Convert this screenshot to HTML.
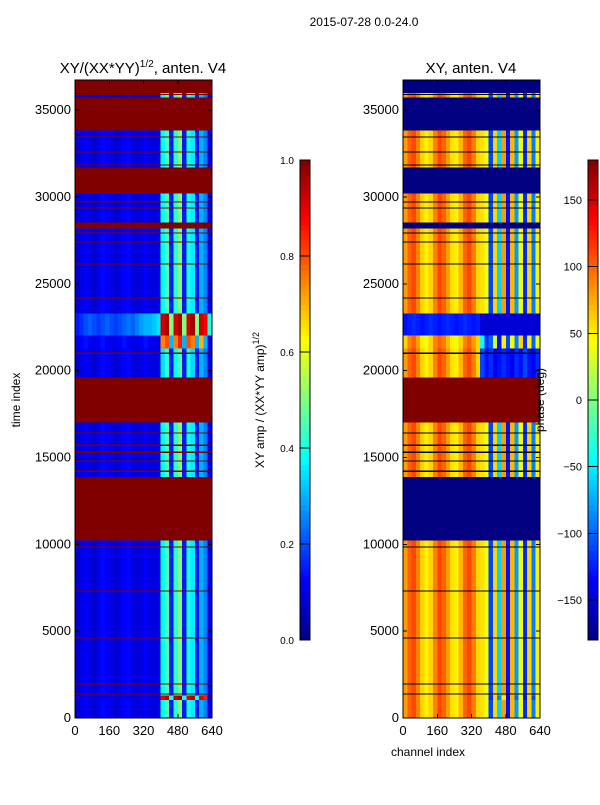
<!DOCTYPE html>
<html><head><meta charset="utf-8">
<style>
body{margin:0;background:#fff;}
svg text{font-family:"Liberation Sans",sans-serif;fill:#000;}
</style></head>
<body>
<svg id="fig" width="600" height="800" xmlns="http://www.w3.org/2000/svg" shape-rendering="crispEdges">
<rect width="600" height="800" fill="#fff"/>
<text x="364" y="26" font-size="12" text-anchor="middle">2015-07-28 0.0-24.0</text>
<text x="143" y="73" font-size="15" text-anchor="middle">XY/(XX*YY)<tspan font-size="10" dy="-6">1/2</tspan><tspan dy="6">, anten. V4</tspan></text>
<text x="471" y="73" font-size="15" text-anchor="middle">XY, anten. V4</text>
<text transform="translate(20,400) rotate(-90)" font-size="12" text-anchor="middle">time index</text>
<text x="428" y="756" font-size="12" text-anchor="middle">channel index</text>
<text transform="translate(264,400) rotate(-90)" font-size="12" text-anchor="middle">XY amp / (XX*YY amp)<tspan font-size="9" dy="-5">1/2</tspan></text>
<g id="heat"></g>
<g id="axes"></g>
<text transform="translate(544,400) rotate(-90)" font-size="12" text-anchor="middle">phase (deg)</text>
</svg>
<script>
// ---- data ----
const segStart = [0,1040,1320,10250,13880,17040,19630,21300,22050,23300,28200,28550,30220,31720,33850,35750,36000];
const segEnd   = [1040,1320,10250,13880,17040,19630,21300,22050,23300,28200,28550,30220,31720,33850,35750,36000,36700];
const segKind  = ["data","hot2","data","flag","data","flagR","data2","stripe","hot","data","flag","data","flag","data","flag","data","flag"];
const lineTimes = [1380,1960,4600,7310,9840,14200,14800,15300,15700,16400,21000,24180,26140,27400,27920,29360,29700,31840,32580,33450,35900];
const leftProfiles = {
 data:[0.08,0.1,0.12,0.1,0.08,0.1,0.13,0.12,0.1,0.08,0.1,0.12,0.13,0.1,0.08,0.1,0.12,0.1,0.09,0.1,0.38,0.45,0.15,0.42,0.5,0.15,0.4,0.36,0.15,0.3,0.25,0.1],
 data2:[0.08,0.1,0.12,0.1,0.08,0.1,0.13,0.12,0.1,0.08,0.1,0.12,0.13,0.1,0.08,0.1,0.12,0.1,0.09,0.1,0.35,0.42,0.15,0.38,0.45,0.15,0.4,0.34,0.15,0.3,0.25,0.1],
 stripe:[0.1,0.12,0.14,0.12,0.1,0.12,0.14,0.12,0.1,0.1,0.12,0.14,0.12,0.1,0.1,0.12,0.14,0.12,0.1,0.1,0.75,0.8,0.3,0.75,0.85,0.3,0.8,0.75,0.3,0.7,0.3,0.1],
 hot:[0.15,0.17,0.2,0.22,0.2,0.18,0.2,0.22,0.2,0.18,0.2,0.22,0.24,0.22,0.25,0.28,0.3,0.3,0.32,0.35,0.92,0.96,0.5,0.92,0.96,0.5,0.92,0.96,0.5,0.92,0.88,0.4],
 hot2:[0.1,0.1,0.12,0.1,0.1,0.1,0.12,0.1,0.1,0.1,0.1,0.12,0.1,0.1,0.1,0.1,0.12,0.1,0.1,0.1,0.9,0.95,0.4,0.95,0.98,0.4,0.9,0.95,0.4,0.9,0.85,0.1],
 flag:[1.0], flagR:[1.0]
};
const rightProfiles = {
 data:[80,100,110,90,60,50,60,90,110,100,80,55,50,70,100,110,90,60,55,40,-110,60,-60,80,-130,70,-80,40,-120,60,-90,50],
 data2:[80,100,110,90,60,50,60,90,110,100,80,55,50,70,100,110,90,60,-110,-130,-120,-140,-130,-120,-130,-140,-120,-130,-110,-130,-140,-120],
 stripe:[60,90,100,80,50,40,60,90,100,90,70,50,40,60,90,100,80,60,-40,-120,-100,30,-130,50,-110,40,-90,60,-120,50,-100,40],
 hot:[-130,-125,-120,-125,-130,-125,-120,-125,-130,-125,-120,-125,-130,-125,-120,-125,-130,-125,-150,-150,-150,-150,-150,-150,-150,-150,-150,-150,-150,-150,-150,-150],
 hot2:[80,100,110,90,60,50,60,90,110,100,80,55,50,70,100,110,90,60,55,40,-120,60,-90,50,-140,70,-100,40,-130,60,-110,50],
 flag:[-180], flagR:[180]
};
const ampTicks = [0.0,0.2,0.4,0.6,0.8,1.0];
const phaseTicks = [-150,-100,-50,0,50,100,150];
const timeTicks = [0,5000,10000,15000,20000,25000,30000,35000];
const chanTicks = [0,160,320,480,640];
// ---- scales ----
const T0=718, TMAX=36730, TOP=80;
const yT = t => T0 - (t/TMAX)*(T0-TOP);
const panels=[{x0:75,x1:212},{x0:403,x1:540}];
const xC = (p,c) => panels[p].x0 + (c/640)*(panels[p].x1-panels[p].x0);
function jet(v){v=Math.max(0,Math.min(1,v));
 const f=x=>Math.round(255*Math.max(0,Math.min(1,x)));
 return `rgb(${f(1.5-Math.abs(4*v-3))},${f(1.5-Math.abs(4*v-2))},${f(1.5-Math.abs(4*v-1))})`;}
const NS="http://www.w3.org/2000/svg";
const heat=document.getElementById('heat'), axes=document.getElementById('axes');
function mk(tag,attrs,parent){const e=document.createElementNS(NS,tag);for(const k in attrs)e.setAttribute(k,attrs[k]);parent.appendChild(e);return e;}
for(let p=0;p<2;p++){
 for(let i=0;i<segStart.length;i++){
  const prof = p===0?leftProfiles[segKind[i]]:rightProfiles[segKind[i]];
  const n=prof.length, w=640/n;
  for(let c=0;c<n;c++){
   const v = p===0?prof[c]:(prof[c]+180)/360;
   const y1=yT(segEnd[i]), y2=yT(segStart[i]);
   const r=mk('rect',{x:xC(p,c*w),y:y1,width:xC(p,(c+1)*w)-xC(p,c*w)+0.3,height:y2-y1+0.3,fill:jet(v)},heat);
   
   
  }
 }
 for(const t of lineTimes){
  const l=mk('rect',{x:panels[p].x0,y:yT(t)-0.6,width:panels[p].x1-panels[p].x0,height:1.2,fill:p===0?'#800000':'#000'},heat);
  
  
 }
 const fr=mk('rect',{x:panels[p].x0,y:TOP,width:panels[p].x1-panels[p].x0,height:T0-TOP,fill:'none',stroke:'#000','stroke-width':1},axes);
 
 
 for(const t of timeTicks){
  const y=yT(t);
  mk('line',{x1:panels[p].x0,x2:panels[p].x0+4,y1:y,y2:y,stroke:'#000'},axes);
  mk('line',{x1:panels[p].x1,x2:panels[p].x1-4,y1:y,y2:y,stroke:'#000'},axes);
  const tx=mk('text',{x:panels[p].x0-4,y:y+4,'font-size':13,'text-anchor':'end'},axes);
  tx.textContent=t;
  
  
 }
 for(const c of chanTicks){
  const x=xC(p,c);
  mk('line',{x1:x,x2:x,y1:T0,y2:T0-4,stroke:'#000'},axes);
  mk('line',{x1:x,x2:x,y1:TOP,y2:TOP+4,stroke:'#000'},axes);
  const tx=mk('text',{x:x,y:T0+17,'font-size':13,'text-anchor':'middle'},axes);
  tx.textContent=c;
  
  
 }
}
function colorbar(x,ticks,lo,hi,name,fs){
 const y0=160,y1=640,N=96;
 for(let i=0;i<N;i++){
  const r=mk('rect',{x:x,y:y1-(i+1)*(y1-y0)/N,width:10,height:(y1-y0)/N+0.5,fill:jet((i+0.5)/N)},axes);
  
  
 }
 const f=mk('rect',{x:x,y:y0,width:10,height:y1-y0,fill:'none',stroke:'#000'},axes);
 
 
 for(const t of ticks){
  const y=y1-(t-lo)/(hi-lo)*(y1-y0);
  mk('line',{x1:x,x2:x+10,y1:y,y2:y,stroke:'#000'},axes);
  const tx=mk('text',{x:x-6,y:y+4,'font-size':fs,'text-anchor':'end'},axes);
  tx.textContent= lo===0? t.toFixed(1) : (t<0?'\u2212'+(-t):String(t));
  
  
 }
}
colorbar(300,ampTicks,0,1,'amp-colorbar',10);
colorbar(588,phaseTicks,-180,180,'phase-colorbar',11);
</script>
</body></html>
